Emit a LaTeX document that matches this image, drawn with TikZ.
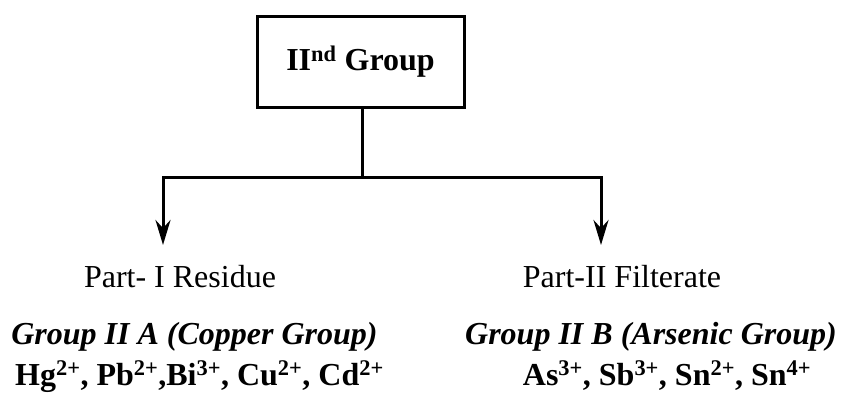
\documentclass[tikz,border=0pt]{standalone}
\usepackage{fontspec}
\setmainfont{Liberation Serif}
\usetikzlibrary{arrows.meta,positioning}
\tikzset{
  titleblk/.style={draw, rectangle, line width=3pt, minimum width=207pt, minimum height=91pt, inner sep=0pt, align=center, font=\fontsize{32}{36}\selectfont\bfseries},
  parttxt/.style={anchor=base, inner sep=0pt, font=\fontsize{32}{36}\selectfont},
  grptxt/.style={anchor=base, inner sep=0pt, font=\fontsize{32}{36}\selectfont\bfseries\itshape},
  iontxt/.style={anchor=base, inner sep=0pt, font=\fontsize{32}{36}\selectfont\bfseries},
  thk/.style={line width=3pt},
  arr/.style={-{Stealth[length=25pt, width=15pt]}, line width=3pt},
}

\begin{document}
\begin{tikzpicture}[x=1pt, y=-1pt]
\useasboundingbox (0,0) rectangle (842,394);

\node[titleblk] (grp) at (360.5,61.5) {II\textsuperscript{nd} Group};

\coordinate (bar) at (362,177);
\coordinate (tipI) at (163,245);
\coordinate (tipII) at (601,245);

\draw[thk] (grp.south -| bar) -- (bar);
\draw[arr] (bar) -| (tipI);
\draw[arr] (bar) -| (tipII);

% part I
\node[parttxt] (resI) at (180,287) {Part- I Residue};
\node[grptxt] (grpA) at (194.5,344) {Group II A (Copper Group)};
\node[iontxt] (ionA) at (199.5,385) {Hg\textsuperscript{2+}, Pb\textsuperscript{2+},Bi\textsuperscript{3+}, Cu\textsuperscript{2+}, Cd\textsuperscript{2+}};

% part II
\node[parttxt] (filII) at (622,287) {Part-II Filterate};
\node[grptxt] (grpB) at (651,344) {Group II B (Arsenic Group)};
\node[iontxt] (ionB) at (667,385) {As\textsuperscript{3+}, Sb\textsuperscript{3+}, Sn\textsuperscript{2+}, Sn\textsuperscript{4+}};

\end{tikzpicture}
\end{document}
